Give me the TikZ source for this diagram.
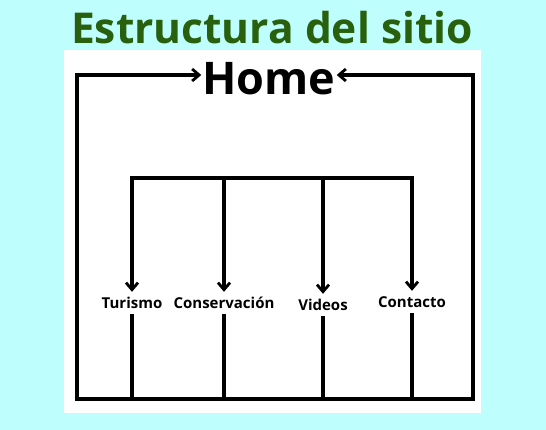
\documentclass[tikz,border=0pt]{standalone}
\usepackage{fontspec}
\setmainfont{Open Sans}
\usepackage{tikz}
\usetikzlibrary{positioning,arrows.meta,calc}
\definecolor{bgcyan}{RGB}{190,255,253}
\definecolor{titlegreen}{RGB}{40,96,14}

\begin{document}
\begin{tikzpicture}[
        x=1pt, y=-1pt,
        title/.style={font=\fontsize{42.5}{43}\selectfont\bfseries, text=titlegreen, inner sep=0pt},
        homebox/.style={font=\fontsize{45}{46}\selectfont\bfseries, inner sep=1pt},
        page/.style={font=\fontsize{15}{16}\selectfont\bfseries, inner sep=0pt,
                     minimum height=22pt},
        link/.style={line width=3.2pt, black},
        arr/.style={link, -{Straight Barb[length=7pt, width=12pt, line width=2.8pt]}}
    ]
    % background and white panel
    \fill[bgcyan] (0,0) rectangle (546,430);
    \useasboundingbox (0,0) rectangle (546,430);
    \fill[white] (64,50) rectangle (481,413);

    % Nodes
    \node[title]   (tit)   at (272,28)  {Estructura del sitio};
    \node[homebox] (home)  at (269,79)  {Home};
    \node[page]    (tur)   at (132,303) {Turismo};
    \node[page]    (cons)  at (224,303) {Conservación};
    \node[page]    (vid)   at (323,305) {Videos};
    \node[page]    (cont)  at (412,302) {Contacto};

    % corners of the frame
    \coordinate (bl)  at (77,399);
    \coordinate (br)  at (473,399);
    \coordinate (tl)  at (77,75);
    \coordinate (tr)  at (473,75);

    % outer frame back to Home
    \draw[arr] (bl) -- (tl) -- (home.west |- tl);
    \draw[arr] (br) -- (tr) -- (home.east |- tr);
    \draw[link] ($(bl)+(-1.6,0)$) -- ($(br)+(1.6,0)$);

    % bus down to the pages
    \coordinate (bus) at (0,178);
    \draw[link] ($(tur.north |- bus)+(-1.6,0)$) -- ($(cont.north |- bus)+(1.6,0)$);
    \foreach \n in {tur, cons, vid, cont}
        \draw[arr] (\n.north |- bus) -- (\n.north);

    % pages down to the bottom line
    \foreach \n in {tur, cons, vid, cont}
        \draw[link] (\n.south) -- (\n.south |- bl);
\end{tikzpicture}
\end{document}
